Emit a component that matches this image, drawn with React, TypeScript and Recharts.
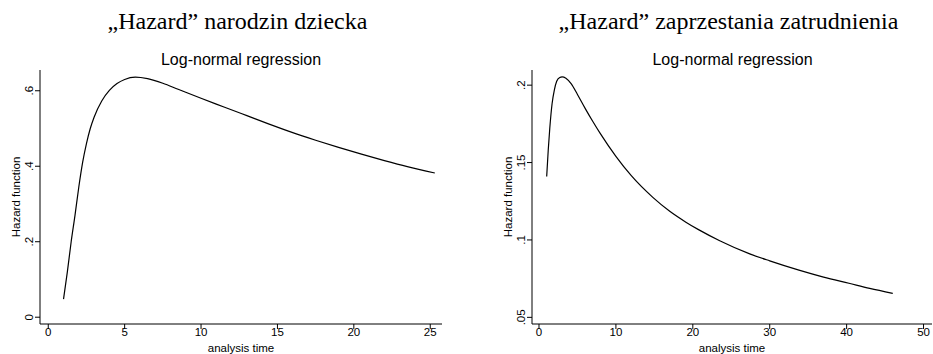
import React from 'react'
import { Line, LineChart, XAxis, YAxis } from 'recharts'

// left panel: birth of a child
const birthTime = [1, 1.25, 1.5, 1.75, 2, 2.25, 2.5, 2.75, 3, 3.5, 4, 4.5, 5, 5.7, 6.5, 7.5, 8.5, 10, 11.5, 13, 14.5, 16, 17.5, 19, 20.5, 22, 23.5, 25.3]
const birthHazard = [0.048, 0.12, 0.2, 0.27, 0.345, 0.41, 0.46, 0.5, 0.53, 0.573, 0.601, 0.619, 0.63, 0.636, 0.632, 0.62, 0.604, 0.58, 0.557, 0.534, 0.511, 0.489, 0.469, 0.45, 0.432, 0.415, 0.399, 0.382]
const birthXTicks = [0, 5, 10, 15, 20, 25]
const birthYTicks = [0, 0.2, 0.4, 0.6]

// right panel: end of employment
const jobTime = [1, 1.2, 1.4, 1.7, 2, 2.3, 2.7, 3, 3.5, 4.2, 5, 6, 7, 8, 10, 12, 14.8, 17, 19.1, 20.8, 23.5, 27.4, 30, 33.8, 37, 40.3, 43, 46]
const jobHazard = [0.141, 0.158, 0.172, 0.188, 0.197, 0.2025, 0.205, 0.2054, 0.2045, 0.2008, 0.194, 0.185, 0.1765, 0.1685, 0.154, 0.1415, 0.1275, 0.1185, 0.1115, 0.1065, 0.0995, 0.091, 0.0865, 0.0805, 0.076, 0.072, 0.0687, 0.0655]
const jobXTicks = [0, 10, 20, 30, 40, 50]
const jobYTicks = [0.05, 0.1, 0.15, 0.2]

const SANS = 'Arial, "Liberation Sans", sans-serif'
const SERIF = '"Times New Roman", "Liberation Serif", serif'

// stata style: ".2" instead of "0.2"
const stataNum = (v: number) => String(Number(v.toFixed(3))).replace(/^0\./, '.')

const YTick = (props: any) => {
  const { x, y, payload } = props
  return (
    <text transform={`translate(${x - 2},${y}) rotate(-90)`} textAnchor="middle" fontSize={11.5} fontFamily={SANS} fill="#000">
      {stataNum(payload.value)}
    </text>
  )
}

const XTick = (props: any) => {
  const { x, y, payload } = props
  return (
    <text x={x} y={y + 7} textAnchor="middle" fontSize={11.5} fontFamily={SANS} fill="#000">
      {payload.value}
    </text>
  )
}

const YLabel = (props: any) => {
  const { viewBox } = props
  const x = viewBox.x + viewBox.width - 20
  const y = viewBox.y + viewBox.height / 2
  return (
    <text transform={`translate(${x},${y}) rotate(-90)`} textAnchor="middle" fontSize={11.5} fontFamily={SANS} fill="#000">
      Hazard function
    </text>
  )
}

const XLabel = (props: any) => {
  const { viewBox } = props
  return (
    <text x={viewBox.x + viewBox.width / 2} y={viewBox.y + 28} textAnchor="middle" fontSize={11.5} fontFamily={SANS} fill="#000">
      analysis time
    </text>
  )
}

interface PanelProps {
  data: { t: number; h: number }[]
  width: number
  yAxisWidth: number
  right: number
  xDomain: [number, number]
  yDomain: [number, number]
  xTicks: number[]
  yTicks: number[]
}

const Panel: React.FC<PanelProps> = ({ data, width, yAxisWidth, right, xDomain, yDomain, xTicks, yTicks }) => (
  <LineChart width={width} height={354} data={data} margin={{ top: 70, right, left: 0, bottom: 0 }}>
    <XAxis
      dataKey="t"
      type="number"
      domain={xDomain}
      ticks={xTicks}
      allowDataOverflow
      height={30}
      tickSize={5}
      tickMargin={0}
      axisLine={{ stroke: '#000' }}
      tickLine={{ stroke: '#000' }}
      tick={<XTick />}
      label={<XLabel />}
    />
    <YAxis
      type="number"
      domain={yDomain}
      ticks={yTicks}
      allowDataOverflow
      width={yAxisWidth}
      tickSize={5}
      tickMargin={0}
      axisLine={{ stroke: '#000' }}
      tickLine={{ stroke: '#000' }}
      tick={<YTick />}
      label={<YLabel />}
    />
    <Line dataKey="h" type="monotone" stroke="#000" strokeWidth={1.2} dot={false} isAnimationActive={false} />
  </LineChart>
)

const birthData = birthTime.map((t, i) => ({ t, h: birthHazard[i] }))
const jobData = jobTime.map((t, i) => ({ t, h: jobHazard[i] }))

export default function App() {
  return (
    <div style={{ position: 'absolute', left: 0, top: 0, width: 933, height: 354, background: '#fff' }}>
      <div style={{ position: 'absolute', left: 0, top: 0 }}>
        <Panel
          data={birthData}
          width={466}
          yAxisWidth={40}
          right={24}
          xDomain={[-0.54, 25.77]}
          yDomain={[-0.018, 0.655]}
          xTicks={birthXTicks}
          yTicks={birthYTicks}
        />
      </div>
      <div style={{ position: 'absolute', left: 466, top: 0 }}>
        <Panel
          data={jobData}
          width={467}
          yAxisWidth={66}
          right={1}
          xDomain={[-0.91, 51.1]}
          yDomain={[0.0457, 0.2098]}
          xTicks={jobXTicks}
          yTicks={jobYTicks}
        />
      </div>
      <svg width={933} height={70} style={{ position: 'absolute', left: 0, top: 0 }}>
        <text x={237.5} y={29} textAnchor="middle" fontSize={24} fontFamily={SERIF} fill="#000">„Hazard” narodzin dziecka</text>
        <text x={728.5} y={29} textAnchor="middle" fontSize={24} fontFamily={SERIF} fill="#000">„Hazard” zaprzestania zatrudnienia</text>
        <text x={241} y={65} textAnchor="middle" fontSize={16} fontFamily={SANS} fill="#000">Log-normal regression</text>
        <text x={732.5} y={65} textAnchor="middle" fontSize={16} fontFamily={SANS} fill="#000">Log-normal regression</text>
      </svg>
    </div>
  )
}
